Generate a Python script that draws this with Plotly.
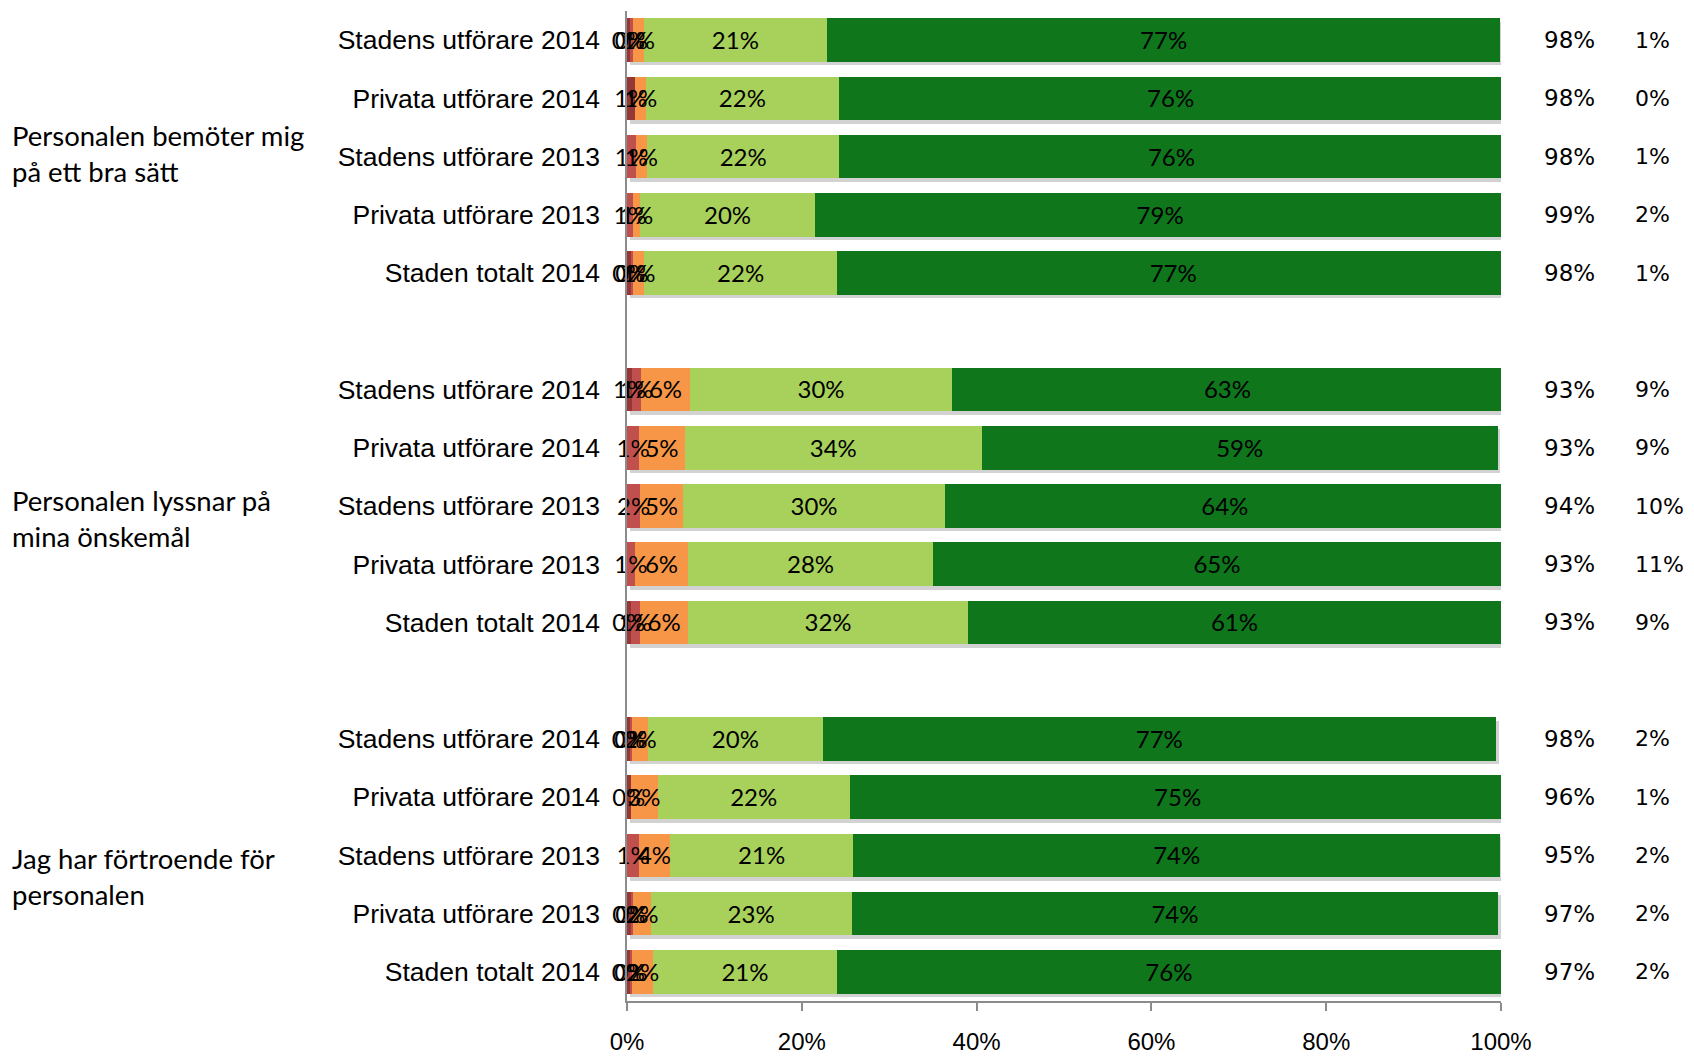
import plotly.graph_objects as go

# ---------------- data ----------------
groups = [
    "Personalen bemöter mig<br>på ett bra sätt",
    "Personalen lyssnar på<br>mina önskemål",
    "Jag har förtroende för<br>personalen",
]
rows = [
    "Stadens utförare 2014",
    "Privata utförare 2014",
    "Stadens utförare 2013",
    "Privata utförare 2013",
    "Staden totalt 2014",
]

# segment shares (percent), 5 rows per group, groups in order
dark_red = [0.3, 0.9, 0.0, 0.0, 0.4,
            0.6, 0.0, 0.0, 0.0, 0.4,
            0.3, 0.4, 0.0, 0.4, 0.3]
red = [0.4, 0.0, 1.0, 0.7, 0.3,
       1.0, 1.4, 1.5, 0.9, 1.1,
       0.3, 0.0, 1.4, 0.3, 0.3]
orange = [1.2, 1.3, 1.3, 0.8, 1.3,
          5.6, 5.2, 4.9, 6.1, 5.5,
          1.8, 3.1, 3.5, 2.0, 2.4]
light_green = [21, 22, 22, 20, 22,
               30, 34, 30, 28, 32,
               20, 22, 21, 23, 21]
dark_green = [77, 76, 76, 79, 77,
              63, 59, 64, 65, 61,
              77, 75, 74, 74, 76]

positive_total = ["98%", "98%", "98%", "99%", "98%",
                  "93%", "93%", "94%", "93%", "93%",
                  "98%", "96%", "95%", "97%", "97%"]
other_share = ["1%", "0%", "1%", "2%", "1%",
               "9%", "9%", "10%", "11%", "9%",
               "2%", "1%", "2%", "2%", "2%"]

x_ticks = [0, 20, 40, 60, 80, 100]
x_ticktext = ["0%", "20%", "40%", "60%", "80%", "100%"]

segments = [dark_red, red, orange, light_green, dark_green]
colors = ["#953735", "#C0504D", "#F79646", "#A8D15B", "#0F761C"]

# ---------------- layout helpers ----------------
n_groups = len(groups)
n_rows = len(rows)
slot = []
labels = []
for g in range(n_groups):
    for i in range(n_rows):
        slot.append(g * (n_rows + 1) + i)
        labels.append(rows[i])
last_slot = max(slot)

BAR_FONT = dict(family="Lato, Carlito, Calibri, sans-serif", size=24, color="black")

fig = go.Figure()

# shadow bars (base axes, slightly shifted)
totals = [sum(s[k] for s in segments) for k in range(len(slot))]
fig.add_trace(go.Bar(
    x=totals, y=slot, orientation="h", width=0.75,
    marker=dict(color="#D2D2D2", line=dict(width=0)),
    xaxis="x", yaxis="y", hoverinfo="skip", showlegend=False,
))

# main stacked bars
for seg, col in zip(segments, colors):
    fig.add_trace(go.Bar(
        x=seg, y=slot, orientation="h", width=0.75,
        marker=dict(color=col, line=dict(width=0)),
        xaxis="x2", yaxis="y2", showlegend=False,
    ))

# labels centred on each segment
cum = [0.0] * len(slot)
for seg in segments:
    xs, ys, ts = [], [], []
    for k, v in enumerate(seg):
        if v > 0:
            xs.append(cum[k] + v / 2)
            ys.append(slot[k])
            ts.append(f"{round(v)}%")
        cum[k] += v
    fig.add_trace(go.Scatter(
        x=xs, y=ys, text=ts, mode="text", textposition="middle center",
        textfont=BAR_FONT, xaxis="x2", yaxis="y3",
        showlegend=False, hoverinfo="skip", cliponaxis=False,
    ))

# right-hand columns
RIGHT_FONT = dict(family="DejaVu Sans, Verdana, sans-serif", size=23, color="black")
RIGHT_FONT2 = dict(family="DejaVu Sans, Verdana, sans-serif", size=22, color="black")
for k in range(len(slot)):
    fig.add_annotation(x=1.047, xref="paper", y=slot[k], yref="y2",
                       text=positive_total[k], showarrow=False,
                       xanchor="left", font=RIGHT_FONT)
    fig.add_annotation(x=1.151, xref="paper", y=slot[k], yref="y2",
                       text=other_share[k], showarrow=False,
                       xanchor="left", font=RIGHT_FONT2)

# group labels on the left
shifts = [3, -12, -21]
for g in range(n_groups):
    fig.add_annotation(x=-0.706, xref="paper",
                       y=g * (n_rows + 1) + 2, yref="y2", yshift=shifts[g],
                       text=groups[g], showarrow=False, align="left",
                       xanchor="left", yanchor="middle",
                       font=dict(family="Lato, Carlito, Calibri, sans-serif",
                                 size=27.5, color="black"))

shift_y = 0.06
shift_x = 0.34
text_shift = 0.05
fig.update_layout(
    width=1686, height=1050,
    margin=dict(l=619, r=193, t=3, b=47),
    paper_bgcolor="white", plot_bgcolor="rgba(0,0,0,0)",
    barmode="stack",
    xaxis=dict(domain=[0, 1], range=[-shift_x, 100 - shift_x], visible=False,
               fixedrange=True),
    yaxis=dict(domain=[0, 1], range=[last_slot + 0.5 - shift_y, -0.5 - shift_y],
               visible=False, fixedrange=True),
    xaxis2=dict(overlaying="x", anchor="y2", side="bottom", range=[0, 100],
                tickvals=x_ticks, ticktext=x_ticktext, ticks="outside",
                ticklen=8, tickcolor="#8C8C8C", tickwidth=1.5,
                showline=True, linecolor="#8C8C8C", linewidth=1.5,
                showgrid=False, zeroline=False, ticklabelstandoff=10,
                tickfont=dict(family="Liberation Sans Narrow, Arial Narrow, Liberation Sans, sans-serif",
                              size=24, color="black")),
    yaxis2=dict(overlaying="y", anchor="x2", side="left",
                range=[last_slot + 0.5, -0.5],
                tickvals=slot, ticktext=labels, ticks="",
                showline=True, linecolor="#8C8C8C", linewidth=1.5,
                showgrid=False, zeroline=False, ticklabelstandoff=20,
                tickfont=dict(family="Liberation Sans, Arial, sans-serif",
                              size=26.5, color="black")),
    yaxis3=dict(overlaying="y", anchor="x2", side="left",
                range=[last_slot + 0.5 - text_shift, -0.5 - text_shift],
                visible=False, fixedrange=True),
)

fig.write_html(
    "out.html",
    config={"displayModeBar": False},
    post_script="document.documentElement.style.overflow='hidden';",
)
